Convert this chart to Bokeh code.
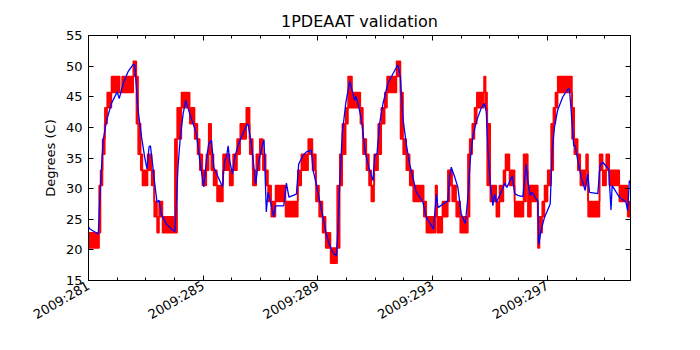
import math
from bokeh.plotting import figure
from bokeh.models import FixedTicker, LinearAxis, Range1d, ColumnDataSource
from bokeh.embed import file_html
from bokeh.resources import INLINE

# ---------------- data ----------------
tick_days = [281, 285, 289, 293, 297]
tick_labels = ["2009:281", "2009:285", "2009:289", "2009:293", "2009:297"]
minor_days = list(range(281, 300))
y_ticks = [15, 20, 25, 30, 35, 40, 45, 50, 55]
x_start, x_end = 281.0, 299.9

# model prediction (blue)
model_t = [281.00, 281.05, 281.34, 281.42, 281.51, 281.63, 281.80, 282.00, 282.07, 282.21,
           282.38, 282.56, 282.61, 282.67, 282.73, 282.85, 282.96, 283.04, 283.11, 283.16,
           283.22, 283.31, 283.39, 283.46, 283.54, 283.72, 283.89, 284.01, 284.07, 284.12,
           284.20, 284.30, 284.39, 284.53, 284.65, 284.76, 284.88, 285.02, 285.11, 285.19,
           285.29, 285.37, 285.52, 285.67, 285.75, 285.81, 285.87, 285.92, 286.02, 286.10,
           286.21, 286.33, 286.51, 286.56, 286.68, 286.83, 286.91, 287.03, 287.12, 287.20,
           287.26, 287.34, 287.46, 287.52, 287.81, 287.90, 287.99, 288.25, 288.33, 288.48,
           288.60, 288.77, 288.83, 288.94, 289.06, 289.18, 289.29, 289.41, 289.52, 289.64,
           289.70, 289.76, 289.85, 289.97, 290.11, 290.22, 290.28, 290.32, 290.40, 290.51,
           290.66, 290.80, 290.92, 290.98, 291.06, 291.15, 291.27, 291.44, 291.62, 291.79,
           291.87, 291.96, 292.08, 292.20, 292.31, 292.43, 292.55, 292.66, 292.78, 292.89,
           293.03, 293.13, 293.19, 293.36, 293.53, 293.59, 293.65, 293.77, 293.88, 294.00,
           294.14, 294.23, 294.32, 294.40, 294.52, 294.69, 294.81, 294.87, 294.93, 295.01,
           295.10, 295.16, 295.22, 295.39, 295.51, 295.59, 295.78, 295.86, 295.97, 296.15,
           296.26, 296.32, 296.40, 296.47, 296.61, 296.67, 296.70, 296.78, 296.90, 297.10,
           297.17, 297.25, 297.36, 297.54, 297.71, 297.77, 297.83, 297.92, 297.97, 298.06,
           298.18, 298.32, 298.41, 298.47, 298.76, 298.84, 298.93, 299.14, 299.22, 299.26,
           299.51, 299.74, 299.80, 299.86, 299.90]
model_v = [23.8, 23.4, 22.6, 30.8, 37.9, 41.1, 43.9, 45.8, 44.7, 47.2,
           49.1, 50.3, 50.2, 46.6, 42.8, 38.4, 35.1, 33.2, 36.8, 37.0,
           34.6, 30.8, 27.8, 28.1, 25.8, 24.2, 23.4, 23.0, 28.0, 33.5,
           38.4, 42.2, 44.4, 42.2, 40.6, 39.0, 34.6, 30.3, 34.6, 37.3,
           37.9, 33.5, 31.9, 30.3, 34.6, 35.1, 37.0, 34.6, 32.4, 35.1,
           37.0, 38.4, 40.3, 40.6, 37.3, 30.8, 33.8, 36.5, 38.0, 26.2,
           29.4, 28.0, 25.4, 27.2, 27.2, 30.9, 28.6, 29.1, 34.0, 35.4,
           36.0, 36.3, 33.0, 30.8, 28.0, 25.3, 22.6, 20.7, 19.6, 19.0,
           23.1, 30.8, 39.0, 43.9, 47.6, 45.5, 44.4, 45.1, 43.9, 41.4,
           35.7, 33.0, 31.3, 35.4, 35.7, 40.6, 43.9, 47.2, 48.8, 50.2,
           48.3, 41.7, 37.3, 34.0, 31.9, 29.4, 28.6, 27.8, 25.3, 24.5,
           23.4, 29.1, 26.9, 27.5, 28.0, 31.9, 33.5, 31.9, 30.2, 25.8,
           24.3, 28.6, 35.1, 38.4, 40.9, 43.1, 43.9, 42.5, 36.2, 30.8,
           27.2, 29.1, 27.8, 29.4, 30.9, 30.2, 32.1, 29.2, 28.9, 28.7,
           34.0, 31.3, 28.9, 29.4, 28.3, 28.0, 20.9, 23.1, 25.3, 27.5,
           36.2, 40.1, 42.8, 45.0, 46.2, 46.3, 42.8, 37.0, 37.0, 34.6,
           31.9, 29.7, 32.4, 29.4, 29.2, 33.8, 34.3, 33.2, 26.5, 30.5,
           28.6, 27.8, 26.4, 31.3, 31.0]

# telemetry (red): interval start, min and max of the quantized values in it
tlm_start = [281.00, 281.37, 281.42, 281.49, 281.57, 281.65, 281.80, 282.09, 282.17, 282.56,
             282.67, 282.73, 282.82, 282.88, 283.06, 283.20, 283.29, 283.39, 283.46, 283.58,
             284.01, 284.09, 284.24, 284.53, 284.70, 284.80, 284.88, 284.97, 285.11, 285.19,
             285.28, 285.36, 285.48, 285.69, 285.92, 286.04, 286.18, 286.29, 286.50, 286.62,
             286.73, 286.85, 286.97, 287.08, 287.18, 287.26, 287.37, 287.52, 287.87, 288.30,
             288.42, 288.66, 288.81, 288.93, 289.04, 289.16, 289.27, 289.44, 289.67, 289.76,
             289.85, 289.97, 290.05, 290.19, 290.48, 290.57, 290.69, 290.78, 290.86, 290.96,
             291.10, 291.21, 291.33, 291.41, 291.74, 291.88, 291.97, 292.08, 292.20, 292.32,
             292.69, 292.78, 293.10, 293.16, 293.34, 293.53, 293.59, 293.68, 293.82, 293.96,
             294.23, 294.29, 294.38, 294.46, 294.54, 294.79, 294.85, 294.90, 295.01, 295.22,
             295.33, 295.47, 295.54, 295.68, 295.86, 296.17, 296.26, 296.32, 296.43, 296.67,
             296.73, 296.82, 296.90, 297.01, 297.13, 297.21, 297.28, 297.36, 297.86, 297.94,
             298.06, 298.15, 298.35, 298.42, 298.82, 298.93, 299.05, 299.16, 299.51, 299.80]
tlm_lo = [20.3, 22.8, 30.5, 35.6, 40.6, 43.2, 45.7, 45.7, 45.7, 48.3,
          40.6, 35.6, 33.0, 30.5, 33.0, 30.5, 25.4, 22.8, 25.4, 22.8,
          22.8, 38.1, 43.2, 40.6, 38.1, 35.6, 33.0, 30.5, 33.0, 35.6,
          33.0, 30.5, 27.9, 33.0, 30.5, 33.0, 35.6, 38.1, 40.6, 35.6,
          30.5, 33.0, 35.6, 33.0, 30.5, 27.9, 25.4, 27.9, 25.4, 30.5,
          33.0, 35.6, 33.0, 27.9, 25.4, 22.8, 20.3, 17.8, 20.3, 30.5,
          35.6, 40.6, 43.2, 43.2, 40.6, 35.6, 33.0, 30.5, 27.9, 33.0,
          35.6, 40.6, 43.2, 45.7, 48.3, 38.1, 35.6, 33.0, 30.5, 27.9,
          25.4, 22.8, 25.4, 22.8, 25.4, 27.9, 30.5, 27.9, 25.4, 22.8,
          25.4, 35.6, 38.1, 40.6, 43.2, 45.7, 43.2, 30.5, 27.9, 25.4,
          27.9, 30.5, 33.0, 30.5, 25.4, 27.9, 33.0, 25.4, 27.9, 20.3,
          22.8, 25.4, 27.9, 30.5, 33.0, 40.6, 43.2, 45.7, 38.1, 35.6,
          33.0, 30.5, 33.0, 25.4, 33.0, 30.5, 33.0, 30.5, 27.9, 25.4]
tlm_hi = [22.8, 30.5, 33.0, 38.1, 43.2, 45.7, 48.3, 45.7, 48.3, 50.8,
          48.3, 40.6, 35.6, 33.0, 35.6, 33.0, 27.9, 25.4, 27.9, 25.4,
          38.1, 43.2, 45.7, 43.2, 40.6, 38.1, 35.6, 33.0, 35.6, 40.6,
          35.6, 33.0, 30.5, 35.6, 33.0, 35.6, 38.1, 40.6, 43.2, 38.1,
          33.0, 35.6, 38.1, 35.6, 33.0, 30.5, 27.9, 30.5, 27.9, 33.0,
          35.6, 38.1, 35.6, 30.5, 27.9, 25.4, 22.8, 20.3, 30.5, 35.6,
          40.6, 43.2, 48.3, 45.7, 43.2, 38.1, 35.6, 33.0, 30.5, 35.6,
          40.6, 43.2, 45.7, 48.3, 50.8, 45.7, 38.1, 35.6, 33.0, 30.5,
          27.9, 25.4, 30.5, 25.4, 27.9, 33.0, 33.0, 30.5, 27.9, 25.4,
          35.6, 38.1, 40.6, 43.2, 45.7, 48.3, 45.7, 40.6, 30.5, 27.9,
          30.5, 33.0, 35.6, 33.0, 27.9, 35.6, 35.6, 30.5, 30.5, 25.4,
          25.4, 27.9, 30.5, 33.0, 40.6, 43.2, 45.7, 48.3, 43.2, 38.1,
          35.6, 33.0, 35.6, 27.9, 35.6, 33.0, 35.6, 33.0, 30.5, 27.9]

# ---------------- figure ----------------
FONT = "DejaVu Sans"
p = figure(width=700, height=350, x_range=Range1d(x_start, x_end), y_range=Range1d(15, 55),
           output_backend="svg", toolbar_location=None, title="1PDEAAT validation",
           min_border_left=88, min_border_right=70, min_border_top=35, min_border_bottom=70)
p.background_fill_color = "white"
p.border_fill_color = "white"
p.outline_line_color = "black"
p.outline_line_width = 1
p.grid.visible = False

p.title.text_font = FONT
p.title.text_font_size = "16px"
p.title.text_font_style = "normal"
p.title.align = "center"
p.title.text_color = "black"

tlm_end = tlm_start[1:] + [x_end]
src_q = ColumnDataSource(dict(left=tlm_start, right=tlm_end, bottom=tlm_lo, top=tlm_hi))
p.quad(left="left", right="right", bottom="bottom", top="top", source=src_q,
       fill_color="#ff0000", line_color="#ff0000", line_width=1.5)
seg_x = tlm_start[1:]
seg_y0 = [min(a, b) for a, b in zip(tlm_hi[:-1], tlm_hi[1:])]
seg_y1 = [max(a, b) for a, b in zip(tlm_lo[:-1], tlm_lo[1:])]
p.segment(x0=seg_x, x1=seg_x, y0=seg_y0, y1=seg_y1, line_color="#ff0000", line_width=2)

p.line(model_t, model_v, line_color="#0000ff", line_width=1.3)

xt = FixedTicker(ticks=tick_days, minor_ticks=minor_days)
yt = FixedTicker(ticks=y_ticks, minor_ticks=[])

def style(ax):
    ax.axis_line_color = "black"
    ax.major_tick_in = 5
    ax.major_tick_out = 0
    ax.minor_tick_in = 3
    ax.minor_tick_out = 0
    ax.major_tick_line_color = "black"
    ax.minor_tick_line_color = "black"
    ax.major_label_text_font = FONT
    ax.major_label_text_font_size = "13px"
    ax.major_label_text_color = "black"

xa = p.xaxis[0]
xa.ticker = xt
style(xa)
xa.major_label_overrides = {d: s for d, s in zip(tick_days, tick_labels)}
xa.major_label_orientation = math.pi / 6
xa.major_label_standoff = 4

ya = p.yaxis[0]
ya.ticker = yt
style(ya)
ya.axis_label = "Degrees (C)"
ya.axis_label_text_font = FONT
ya.axis_label_text_font_size = "13px"
ya.axis_label_text_font_style = "normal"
ya.axis_label_text_color = "black"
ya.major_label_standoff = 6

ra = LinearAxis(ticker=yt)
style(ra)
ra.major_label_text_alpha = 0
ra.major_label_text_font_size = "1px"
p.add_layout(ra, "right")

ta = LinearAxis(ticker=xt)
style(ta)
ta.major_label_text_alpha = 0
ta.major_label_text_font_size = "1px"
p.add_layout(ta, "above")

open("out.html", "w").write(file_html(p, INLINE))
